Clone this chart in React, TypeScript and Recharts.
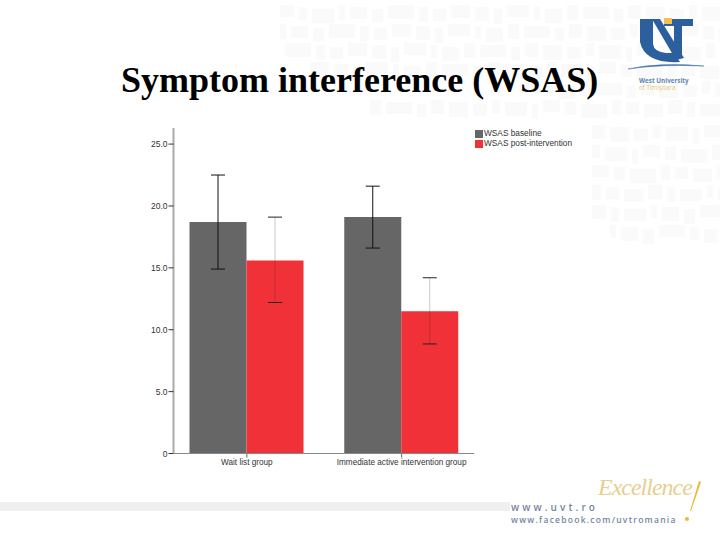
import { BarChart, Bar, XAxis, YAxis, ErrorBar, Legend } from 'recharts';

const groups = ['Wait list group', 'Immediate active intervention group'];
const baseline = [18.7, 19.1];
const baselineLow = [14.9, 16.6];
const baselineHigh = [22.5, 21.6];
const post = [15.6, 11.5];
const postLow = [12.2, 8.85];
const postHigh = [19.1, 14.2];
const yTicks = [0, 5, 10, 15, 20, 25];

// ErrorBar wants offsets from the bar value, not absolute ends
const chartData = groups.map((group, i) => ({
  group,
  baseline: baseline[i],
  baselineErr: [baseline[i] - baselineLow[i], baselineHigh[i] - baseline[i]],
  post: post[i],
  postErr: [post[i] - postLow[i], postHigh[i] - post[i]],
}));

// faint slide background: rows of small blocks behind the title and the logo
const blockWidths = [14, 8, 22, 6, 17, 11, 26, 9, 13, 19];
const blockRows = [
  [5, 280, 720], [24, 280, 720], [43, 285, 720], [62, 310, 720], [81, 520, 720], [100, 370, 720],
  [125, 592, 720], [145, 592, 720], [165, 592, 720], [185, 592, 720], [205, 592, 720], [225, 610, 720],
];

function Background() {
  const blocks: JSX.Element[] = [];
  blockRows.forEach(([y, from, to], r) => {
    let x = from;
    let i = r * 3;
    while (x < to) {
      const w = blockWidths[i % blockWidths.length];
      blocks.push(<rect key={`${r}-${i}`} x={x} y={y + (i % 3) * 2} width={w} height={12 + (i % 4)} fill="#fafafa" />);
      x += w + 5;
      i += 1;
    }
  });
  return <svg width={720} height={540} style={{ position: 'absolute', left: 0, top: 0 }}>{blocks}</svg>;
}

function Logo() {
  return (
    <svg width={120} height={110} style={{ position: 'absolute', left: 600, top: 0 }}>
      <path d="M40 19 H53 V44 Q54 52 66 53 L74 53 L80 62 Q45 64 40 42 Z" fill="#2b5f9e" />
      <path d="M52 19 H60 L84 58 L76 60 Z" fill="#2b5f9e" />
      <path d="M64 19 H93 V26 H82 V58 L74 48 V26 H64 Z" fill="#2b5f9e" />
      <rect x={64} y={18} width={8} height={6} fill="#f2c14e" />
      <path d="M28 69 Q60 62 104 66 Q60 64 28 69 Z" fill="#2b5f9e" stroke="#5b87b5" strokeWidth={0.6} />
      <text x={39} y={82.5} fontFamily="Open Sans" fontSize={6.3} fontWeight={700} fill="#6187b0">West University</text>
      <text x={39} y={90} fontFamily="Open Sans" fontSize={6.3} fill="#e6c877">of Timișoara</text>
    </svg>
  );
}

function Footer() {
  return (
    <>
      <div style={{ position: 'absolute', left: 0, top: 502, width: 510, height: 9, background: '#efefef' }} />
      <div style={{ position: 'absolute', left: 511, top: 501, fontFamily: 'Open Sans', fontSize: 10, fontWeight: 600, letterSpacing: 3.1, color: '#7786a0', lineHeight: '13px' }}>www.uvt.ro</div>
      <div style={{ position: 'absolute', left: 511, top: 513, fontFamily: 'Open Sans', fontSize: 8.5, fontWeight: 600, letterSpacing: 1.25, color: '#7786a0', lineHeight: '13px', whiteSpace: 'nowrap' }}>www.facebook.com/uvtromania</div>
      <div style={{ position: 'absolute', left: 598, top: 472, fontFamily: '"Liberation Serif"', fontStyle: 'italic', fontSize: 24, letterSpacing: -1, color: '#e6cf90', lineHeight: '30px', whiteSpace: 'nowrap' }}>Excellence</div>
      <svg width={25} height={60} style={{ position: 'absolute', left: 680, top: 475 }}>
        <path d="M19 6 L21 7 L11 36 L10 36 Z" fill="#e8b93c" />
        <circle cx={7} cy={44} r={2} fill="#e8b93c" />
      </svg>
    </>
  );
}

export default function App() {
  return (
    <div style={{ position: 'absolute', left: 0, top: 0, width: 720, height: 540, overflow: 'hidden', background: '#fff' }}>
      {/* red series has a washed out stem but dark caps, the stem is the middle line */}
      <style>{`.recharts-errorBar[stroke="#222222"] line:nth-child(2) { stroke: rgba(40,40,40,0.25); }`}</style>
      <Background />
      <div style={{ position: 'absolute', left: 121, top: 60, fontFamily: '"Liberation Serif"', fontWeight: 700, fontSize: 36, lineHeight: '40px', color: '#000', whiteSpace: 'nowrap' }}>
        Symptom interference (WSAS)
      </div>
      <Logo />
      <Footer />
      <div style={{ position: 'absolute', left: 0, top: 0 }}>
        <BarChart
          width={720}
          height={540}
          data={chartData}
          barSize={57}
          barGap={0}
          margin={{ top: 128, right: 246, bottom: 0, left: 143.5 }}
        >
          <XAxis
            dataKey="group"
            height={86.5}
            interval={0}
            padding={{ left: -4, right: -5 }}
            axisLine={{ stroke: '#888888', strokeWidth: 1 }}
            tickLine={{ stroke: '#666666' }}
            tickSize={4}
            tick={{ fill: '#333333', fontSize: 8.2, fontFamily: '"Liberation Sans"' }}
          />
          <YAxis
            width={30}
            domain={[0, 26.3]}
            ticks={yTicks}
            allowDataOverflow
            tickFormatter={(v: number) => (v === 0 ? '0' : v.toFixed(1))}
            axisLine={{ stroke: '#aaaaaa', strokeWidth: 2 }}
            tickLine={{ stroke: '#333333' }}
            tickSize={5}
            tickMargin={1}
            tick={{ fill: '#333333', fontSize: 8.5, fontFamily: '"Liberation Sans"' }}
          />
          <Legend
            layout="vertical"
            align="center"
            verticalAlign="middle"
            iconType="square"
            iconSize={8}
            wrapperStyle={{ left: 475, top: 128, width: 125, fontSize: 8.3, fontFamily: '"Liberation Sans"', lineHeight: '10px', whiteSpace: 'nowrap', textAlign: 'left' }}
            formatter={(value: string) => <span style={{ color: '#333333', marginLeft: -3 }}>{value}</span>}
          />
          <Bar dataKey="baseline" name="WSAS baseline" fill="#666666" isAnimationActive={false}>
            <ErrorBar dataKey="baselineErr" width={7} stroke="#111111" strokeWidth={1} isAnimationActive={false} />
          </Bar>
          <Bar dataKey="post" name="WSAS post-intervention" fill="#f03238" isAnimationActive={false}>
            <ErrorBar dataKey="postErr" width={7} stroke="#222222" strokeWidth={1} isAnimationActive={false} />
          </Bar>
        </BarChart>
      </div>
    </div>
  );
}
